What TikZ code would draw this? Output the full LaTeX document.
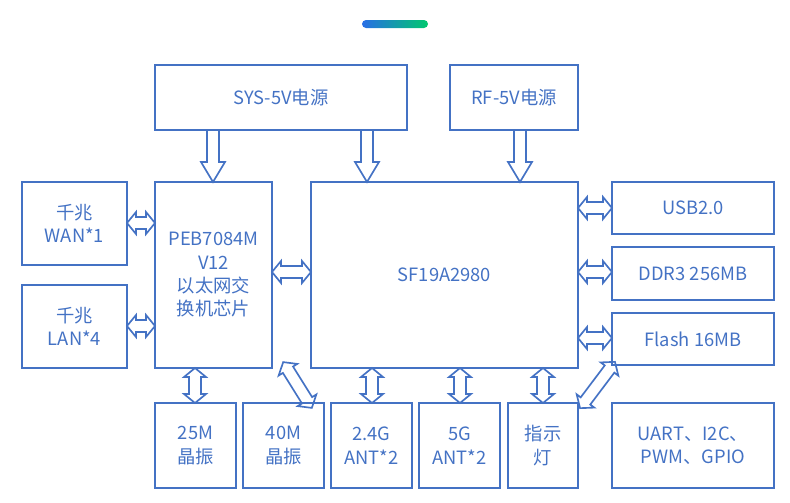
\documentclass[tikz,border=0pt]{standalone}
\usepackage{fontspec}
\setmainfont{Noto Sans CJK SC}
\usetikzlibrary{calc}
\definecolor{colo}{RGB}{68,114,196}
\definecolor{barb}{RGB}{40,110,230}
\definecolor{barg}{RGB}{0,200,110}
\tikzstyle{box}=[draw=colo,line width=1.2pt,text=colo,align=center,font=\fontsize{11}{14}\selectfont,inner sep=0pt]
\tikzstyle{fat}=[draw=colo,line width=1pt,line join=miter]
% double fat arrow: x, y, angle, half length
\newcommand{\dfat}[4]{\begin{scope}[shift={(#1,#2)},rotate=#3]
\draw[fat] (-#4,0)--(-#4+9,11)--(-#4+9,6)--(#4-9,6)--(#4-9,11)--(#4,0)--(#4-9,-11)--(#4-9,-6)--(-#4+9,-6)--(-#4+9,-11)--cycle;
\end{scope}}
% single fat arrow pointing down: x, y, half length
\newcommand{\sfat}[3]{\begin{scope}[shift={(#1,#2)}]
\draw[fat] (-6,-#3)--(6,-#3)--(6,#3-20)--(12,#3-20)--(0,#3)--(-12,#3-20)--(-6,#3-20)--cycle;
\end{scope}}
\begin{document}
\begin{tikzpicture}[x=0.6pt,y=-0.6pt]
\useasboundingbox (0,0) rectangle (790,502);
\shade[left color=barb,right color=barg,rounded corners=2.4pt] (362,20) rectangle (428,28);
\node[box,minimum width=151.2pt,minimum height=39pt] (sys) at (281,97.5) {SYS-5V电源};
\node[box,minimum width=76.8pt,minimum height=39pt] (rf) at (514,97.5) {RF-5V电源};
\node[box,minimum width=63pt,minimum height=49.8pt] (wan) at (74.5,223.5) {千兆\\WAN*1};
\node[box,minimum width=63pt,minimum height=49.8pt] (lan) at (74.5,326.5) {千兆\\LAN*4};
\node[box,minimum width=70.2pt,minimum height=111.6pt] (peb) at (213.5,275) {PEB7084M\\V12\\以太网交\\换机芯片};
\node[box,minimum width=160.2pt,minimum height=111.6pt] (sf) at (444.5,275) {SF19A2980};
\node[box,minimum width=97.2pt,minimum height=31.2pt] (usb) at (693,208) {USB2.0};
\node[box,minimum width=97.2pt,minimum height=31.8pt] (ddr) at (693,273.5) {DDR3 256MB};
\node[box,minimum width=97.2pt,minimum height=31.2pt] (flash) at (693,339) {Flash 16MB};
\node[box,minimum width=48.6pt,minimum height=51pt] (osc25) at (195.5,445.5) {25M\\晶振};
\node[box,minimum width=48.6pt,minimum height=51pt] (osc40) at (283.5,445.5) {40M\\晶振};
\node[box,minimum width=48.6pt,minimum height=51pt] (ant24) at (371.5,445.5) {2.4G\\ANT*2};
\node[box,minimum width=48.6pt,minimum height=51pt] (ant5) at (459.5,445.5) {5G\\ANT*2};
\node[box,minimum width=42pt,minimum height=51pt] (led) at (543,445.5) {指示\\灯};
\node[box,minimum width=97.2pt,minimum height=51pt] (uart) at (693,445.5) {UART、I2C、\\PWM、GPIO};
% power
\sfat{213}{156}{26}
\sfat{367}{156}{26}
\sfat{520}{156}{26}
% left side
\dfat{141}{223}{0}{14}
\dfat{141}{326}{0}{14}
\dfat{291.5}{272}{0}{19.5}
% right side
\dfat{595}{208}{0}{17}
\dfat{595}{272}{0}{17}
\dfat{595}{338}{0}{17}
% bottom
\dfat{195}{385.5}{90}{17.5}
\dfat{372}{385.5}{90}{17.5}
\dfat{460}{385.5}{90}{17.5}
\dfat{543}{385.5}{90}{17.5}
\dfat{297.5}{385}{-58}{27}
\dfat{597.5}{385}{53}{29}
\end{tikzpicture}
\end{document}
